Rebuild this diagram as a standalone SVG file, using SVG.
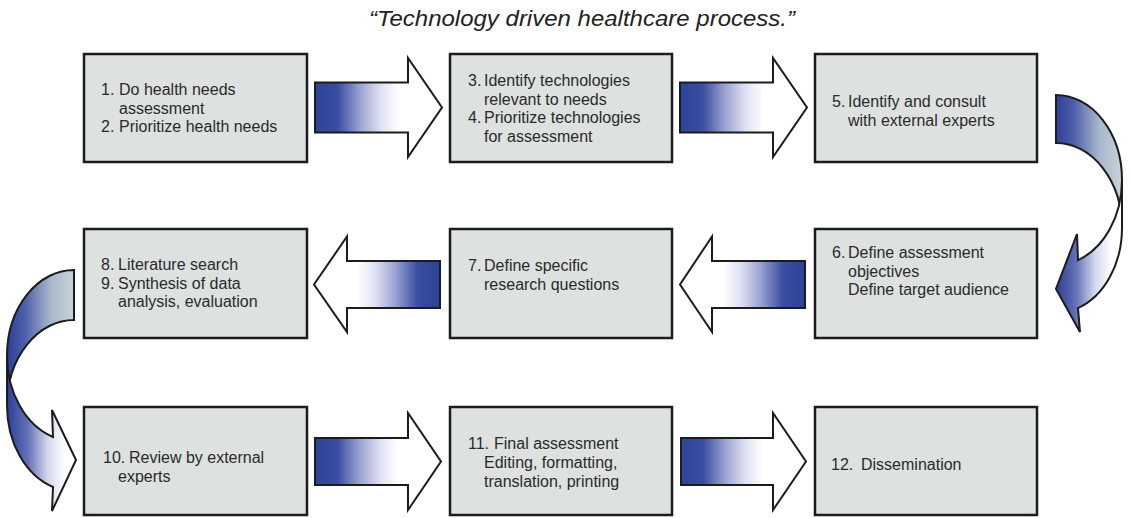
<svg xmlns="http://www.w3.org/2000/svg" width="1131" height="518" viewBox="0 0 1131 518">
  <defs>
    <style>
      .box { fill: #dde2e0; stroke: #1c1c1c; stroke-width: 2.5; }
      .lbl { font-family: "Liberation Sans", Arial, sans-serif; font-size: 16px; fill: #2a2a2a; }
      .title { font-family: "Liberation Sans", Arial, sans-serif; font-style: italic; font-size: 22px; fill: #222; }
      .arrow { stroke: #1c1c1c; stroke-width: 2; stroke-linejoin: miter; }
      .arrow-r { fill: url(#gradRight); }
      .arrow-l { fill: url(#gradLeft); }
      .band-back { fill: url(#gradBack); }
      .band-front { fill: url(#gradFront); }
    </style>
    <!-- straight block arrows: dark blue tail fading to white head -->
    <linearGradient id="gradRight" x1="0" y1="0" x2="1" y2="0">
      <stop offset="0" stop-color="#2b4399"/>
      <stop offset="0.18" stop-color="#3b4ea0"/>
      <stop offset="0.36" stop-color="#9ea5d3"/>
      <stop offset="0.52" stop-color="#e0e2f2"/>
      <stop offset="0.66" stop-color="#ffffff"/>
    </linearGradient>
    <linearGradient id="gradLeft" x1="1" y1="0" x2="0" y2="0">
      <stop offset="0" stop-color="#2b4399"/>
      <stop offset="0.18" stop-color="#3b4ea0"/>
      <stop offset="0.36" stop-color="#9ea5d3"/>
      <stop offset="0.52" stop-color="#e0e2f2"/>
      <stop offset="0.66" stop-color="#ffffff"/>
    </linearGradient>
    <!-- curved arrows: rear band and front band with head -->
    <linearGradient id="gradBack" x1="0" y1="0" x2="1" y2="0">
      <stop offset="0" stop-color="#2c3f96"/>
      <stop offset="0.25" stop-color="#4a5ca8"/>
      <stop offset="0.65" stop-color="#a7b6cb"/>
      <stop offset="1" stop-color="#c8d4d7"/>
    </linearGradient>
    <linearGradient id="gradFront" x1="0" y1="0" x2="1" y2="0">
      <stop offset="0" stop-color="#2c3f96"/>
      <stop offset="0.3" stop-color="#6470b6"/>
      <stop offset="0.6" stop-color="#d6daee"/>
      <stop offset="0.85" stop-color="#ffffff"/>
    </linearGradient>
  </defs>

  <text class="title" x="582" y="26" text-anchor="middle" textLength="426" lengthAdjust="spacingAndGlyphs">“Technology driven healthcare process.”</text>

  <!-- process steps -->
  <g id="step1-2">
    <rect class="box" x="84" y="54" width="223" height="108"/>
    <text class="lbl">
      <tspan x="101" y="95">1. </tspan><tspan x="119" y="95">Do health needs</tspan>
      <tspan x="119" y="113.5">assessment</tspan>
      <tspan x="101" y="132">2. </tspan><tspan x="119" y="132">Prioritize health needs</tspan>
    </text>
  </g>
  <g id="step3-4">
    <rect class="box" x="450" y="54" width="222" height="108"/>
    <text class="lbl">
      <tspan x="468" y="86">3. </tspan><tspan x="484" y="86">Identify technologies</tspan>
      <tspan x="484" y="104.5">relevant to needs</tspan>
      <tspan x="468" y="123">4. </tspan><tspan x="484" y="123">Prioritize technologies</tspan>
      <tspan x="484" y="141.5">for assessment</tspan>
    </text>
  </g>
  <g id="step5">
    <rect class="box" x="815" y="54" width="222" height="108"/>
    <text class="lbl">
      <tspan x="832" y="107">5. </tspan><tspan x="848" y="107">Identify and consult</tspan>
      <tspan x="848" y="125.5">with external experts</tspan>
    </text>
  </g>
  <g id="step6">
    <rect class="box" x="815" y="229" width="222" height="109"/>
    <text class="lbl">
      <tspan x="832" y="258">6. </tspan><tspan x="848" y="258">Define assessment</tspan>
      <tspan x="848" y="276.5">objectives</tspan>
      <tspan x="848" y="295">Define target audience</tspan>
    </text>
  </g>
  <g id="step7">
    <rect class="box" x="450" y="229" width="222" height="109"/>
    <text class="lbl">
      <tspan x="468" y="271">7. </tspan><tspan x="484" y="271">Define specific</tspan>
      <tspan x="484" y="289.5">research questions</tspan>
    </text>
  </g>
  <g id="step8-9">
    <rect class="box" x="84" y="229" width="223" height="109"/>
    <text class="lbl">
      <tspan x="101" y="270">8. </tspan><tspan x="118" y="270">Literature search</tspan>
      <tspan x="101" y="288.5">9. </tspan><tspan x="118" y="288.5">Synthesis of data</tspan>
      <tspan x="118" y="307">analysis, evaluation</tspan>
    </text>
  </g>
  <g id="step10">
    <rect class="box" x="84" y="407" width="223" height="108"/>
    <text class="lbl">
      <tspan x="103" y="463">10. </tspan><tspan x="129" y="463">Review by external</tspan>
      <tspan x="118" y="482">experts</tspan>
    </text>
  </g>
  <g id="step11">
    <rect class="box" x="450" y="407" width="222" height="108"/>
    <text class="lbl">
      <tspan x="468" y="449">11. </tspan><tspan x="494" y="449">Final assessment</tspan>
      <tspan x="484" y="468">Editing, formatting,</tspan>
      <tspan x="484" y="487">translation, printing</tspan>
    </text>
  </g>
  <g id="step12">
    <rect class="box" x="815" y="407" width="222" height="108"/>
    <text class="lbl">
      <tspan x="831" y="470">12. </tspan><tspan x="861" y="470">Dissemination</tspan>
    </text>
  </g>

  <!-- connectors -->
  <g id="connectors">
    <!-- row 1, left to right -->
    <path class="arrow arrow-r" d="M315,82.5 H408 V58 L442,107.5 L408,157 V132.5 H315 Z"/>
    <path class="arrow arrow-r" d="M680,82.5 H773 V58 L807,107.5 L773,157 V132.5 H680 Z"/>

    <!-- turn from step 5 down to step 6 -->
    <path class="arrow band-back" d="M1056,95 A66,85 0 0 1 1122,180 L1122,228 A66,85 0 0 0 1056,143 Z"/>
    <path class="arrow band-front" d="M1122,180 A66,85 0 0 1 1078,260.1 L1077,234 L1056,289 L1080,332 L1078,308.1 A66,85 0 0 0 1122,228 Z"/>

    <!-- row 2, right to left -->
    <path class="arrow arrow-l" d="M805,261 H712 V236.5 L680,284.5 L712,332 V308 H805 Z"/>
    <path class="arrow arrow-l" d="M440,261 H347 V236.5 L314,284.5 L347,332 V308 H440 Z"/>

    <!-- turn from step 8-9 down to step 10 -->
    <path class="arrow band-back" d="M74,270 A67,85.6 0 0 0 7,355.6 L7,405.6 A67,85.6 0 0 1 74,320 Z"/>
    <path class="arrow band-front" d="M7,355.6 A67,85.6 0 0 0 53,437 L52,410 L76,460 L52,511 L53,487 A67,85.6 0 0 1 7,405.6 Z"/>

    <!-- row 3, left to right -->
    <path class="arrow arrow-r" d="M315,438 H408 V413 L441,461.5 L408,510 V485 H315 Z"/>
    <path class="arrow arrow-r" d="M681,438 H773 V413 L806,461.5 L773,510 V485 H681 Z"/>
  </g>
</svg>
